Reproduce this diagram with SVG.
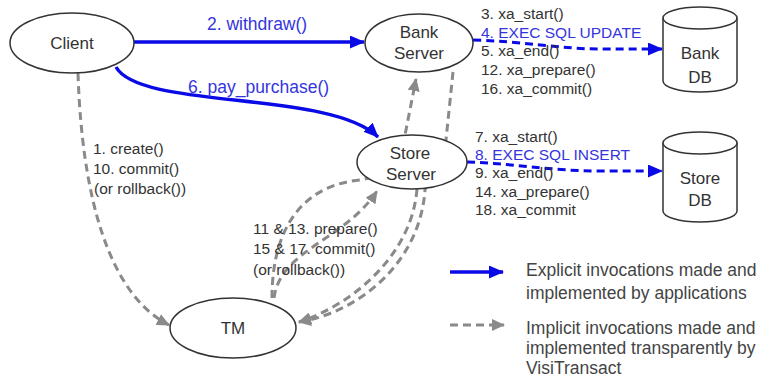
<svg xmlns="http://www.w3.org/2000/svg" width="760" height="381" viewBox="0 0 760 381">
<defs>
<marker id="ab" markerUnits="userSpaceOnUse" markerWidth="15" markerHeight="13" refX="14" refY="6.5" orient="auto"><path d="M0,0 L15,6.5 L0,13 z" fill="#0a0ae6"/></marker>
<marker id="ag" markerUnits="userSpaceOnUse" markerWidth="13" markerHeight="12" refX="12" refY="6" orient="auto"><path d="M0,0 L13,6 L0,12 z" fill="#8a8a8a"/></marker>
</defs>
<style>
.node{fill:#fff;stroke:#333;stroke-width:1.5}
.nt{font-family:"Liberation Sans",Arial,sans-serif;font-size:17px;fill:#333;text-anchor:middle}
.blue{fill:none;stroke:#0a0ae6;stroke-width:3.5}
.bdash{fill:none;stroke:#0a0ae6;stroke-width:3;stroke-dasharray:8,5}
.gdash{fill:none;stroke:#8a8a8a;stroke-width:3;stroke-dasharray:8,5}
.lbl{font-family:"Liberation Sans",Arial,sans-serif;font-size:15.5px;fill:#333}
.blbl{font-family:"Liberation Sans",Arial,sans-serif;font-size:17.5px;fill:#3535dd}
.bl2{fill:#3535dd}
.leg{font-family:"Liberation Sans",Arial,sans-serif;font-size:17.5px;fill:#444}
</style>
<rect width="760" height="381" fill="#fff"/>
<g id="connectors">
<path class="blue" d="M134,42 L364,42" marker-end="url(#ab)"/>
<path class="blue" d="M116,67 C140,110 330,90 378,137" marker-end="url(#ab)"/>
<path class="bdash" d="M473,40 C520,41 560,49 600,49 L662,49" marker-end="url(#ab)"/>
<path class="bdash" d="M467,162 C510,163 550,171 600,171 L662,171" marker-end="url(#ab)"/>
<path class="gdash" d="M78,73 C82,200 110,295 169,325" marker-end="url(#ag)"/>
<path class="gdash" d="M274,298 C280,250 345,240 377,191" marker-end="url(#ag)"/>
<path class="gdash" d="M272,298 C272,225 305,185 360,180 C385,176 400,160 405,135 L416,79" marker-end="url(#ag)"/>
<path class="gdash" d="M453,72 L446,140 C440,170 428,180 425,190 C420,262 360,312 299,322" marker-end="url(#ag)"/>
<path class="gdash" d="M417,189 C412,255 352,305 299,322" marker-end="url(#ag)"/>
</g>
<g id="client"><ellipse class="node" cx="72" cy="43" rx="62" ry="30"/><text class="nt" x="72" y="49">Client</text></g>
<g id="bank-server"><ellipse class="node" cx="419" cy="43" rx="54" ry="29"/><text class="nt" x="419" y="38">Bank</text><text class="nt" x="419" y="59">Server</text></g>
<g id="store-server"><ellipse class="node" cx="412" cy="162" rx="55" ry="27"/><text class="nt" x="410" y="159">Store</text><text class="nt" x="411" y="180">Server</text></g>
<g id="tm"><ellipse class="node" cx="233" cy="328" rx="63" ry="30"/><text class="nt" x="233" y="334">TM</text></g>
<g id="bank-db"><path class="node" d="M663,18 V81 A37,11 0 0 0 737,81 V18"/><ellipse class="node" cx="700" cy="18" rx="37" ry="11"/><text class="nt" x="700" y="59">Bank</text><text class="nt" x="700" y="83">DB</text></g>
<g id="store-db"><path class="node" d="M663,143 V211 A37,11 0 0 0 737,211 V143"/><ellipse class="node" cx="700" cy="143" rx="37" ry="11"/><text class="nt" x="700" y="184">Store</text><text class="nt" x="700" y="206">DB</text></g>
<g id="labels">
<text class="blbl" x="207" y="30">2. withdraw()</text>
<text class="blbl" x="188" y="93">6. pay_purchase()</text>
<text class="lbl" x="93" y="153.5">1. create()</text>
<text class="lbl" x="93" y="173.5">10. commit()</text>
<text class="lbl" x="94" y="193.5">(or rollback())</text>
<text class="lbl" x="253" y="233.5">11 &amp; 13. prepare()</text>
<text class="lbl" x="253" y="253.5">15 &amp; 17. commit()</text>
<text class="lbl" x="253" y="274.5">(or rollback())</text>
<text class="lbl" x="481" y="19">3. xa_start()</text>
<text class="lbl bl2" x="481" y="37.5">4. EXEC SQL UPDATE</text>
<text class="lbl" x="481" y="56">5. xa_end()</text>
<text class="lbl" x="481" y="75">12. xa_prepare()</text>
<text class="lbl" x="481" y="93.5">16. xa_commit()</text>
<text class="lbl" x="475" y="142">7. xa_start()</text>
<text class="lbl bl2" x="475" y="160">8. EXEC SQL INSERT</text>
<text class="lbl" x="475" y="178">9. xa_end()</text>
<text class="lbl" x="475" y="196.5">14. xa_prepare()</text>
<text class="lbl" x="475" y="214.5">18. xa_commit</text>
</g>
<g id="legend">
<path class="blue" d="M450,272 L503,272" marker-end="url(#ab)"/>
<path class="gdash" d="M450,325 L504,325" marker-end="url(#ag)"/>
<text class="leg" x="526" y="276">Explicit invocations made and</text>
<text class="leg" x="526" y="299">implemented by applications</text>
<text class="leg" x="526" y="334">Implicit invocations made and</text>
<text class="leg" x="526" y="354">implemented transparently by</text>
<text class="leg" x="526" y="374">VisiTransact</text>
</g>
</svg>
